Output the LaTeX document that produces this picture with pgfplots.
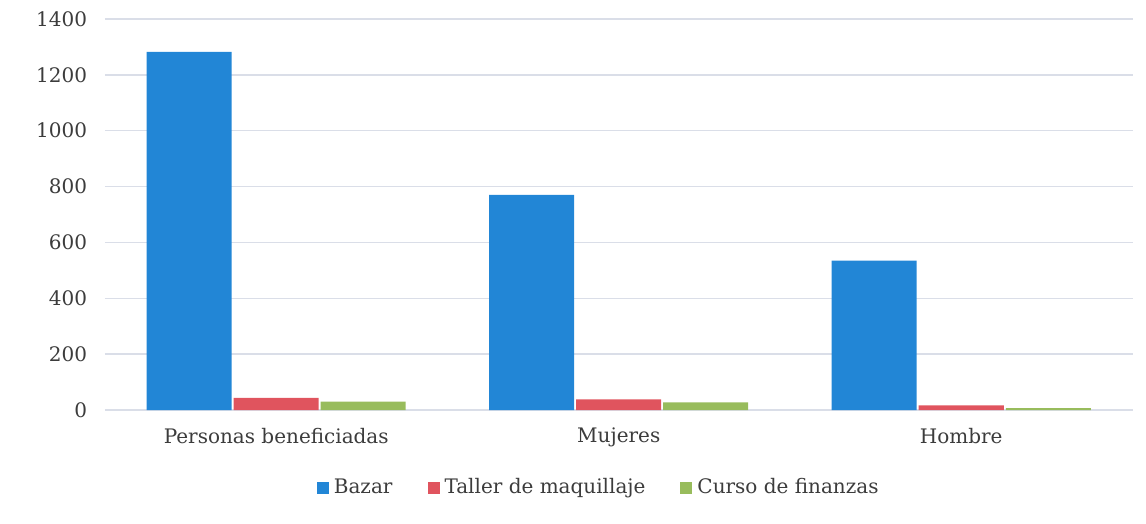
\documentclass[border=0pt]{standalone}
\usepackage{fontspec}
\setmainfont{DejaVu Serif}
\usepackage{pgfplots}
\pgfplotsset{compat=1.18}
\definecolor{cBazar}{RGB}{34,134,214}
\definecolor{cTaller}{RGB}{224,84,94}
\definecolor{cCurso}{RGB}{152,188,92}
\definecolor{cGrid}{RGB}{218,222,232}
\definecolor{cText}{RGB}{60,60,60}
\begin{document}
\begin{tikzpicture}
\begin{axis}[
  scale only axis, width=411pt, height=156.4pt,
  xmin=-0.5, xmax=2.5, ymin=0, ymax=1400,
  ytick={0,200,...,1400},
  xtick={0,1,2},
  xticklabels={Personas beneficiadas, Mujeres, Hombre},
  axis line style={draw=none},
  major tick length=0pt,
  ymajorgrids, grid style={cGrid, line width=0.6pt},
  ybar=0.8pt, bar width=34pt,
  /pgf/number format/assume math mode=true,
  /pgf/number format/1000 sep={},
  ticklabel style={font=\fontsize{8}{9.6}\selectfont, text=cText},
  yticklabel style={anchor=east, inner sep=0pt, xshift=-7pt},
  xticklabel style={anchor=north, inner sep=0pt, yshift=-7pt},
  legend style={at={(0.482,-0.2)}, anchor=center, draw=none, fill=none,
    font=\fontsize{8}{9.6}\selectfont, text=cText,
    legend columns=-1,
    /tikz/every even column/.append style={column sep=12pt}},
  legend image code/.code={\fill[#1] (0pt,-2.4pt) rectangle (4.8pt,2.4pt);},
]
\addplot[fill=cBazar, draw=none] coordinates {(0,1282) (1,770) (2,535)};
\addplot[fill=cTaller, draw=none] coordinates {(0,43) (1,38) (2,17)};
\addplot[fill=cCurso, draw=none] coordinates {(0,30) (1,27) (2,7)};
\legend{Bazar, Taller de maquillaje, Curso de finanzas}
\end{axis}
\path[use as bounding box] (-42pt,-45.2pt) rectangle (416.4pt,164pt);
\end{tikzpicture}
\end{document}
